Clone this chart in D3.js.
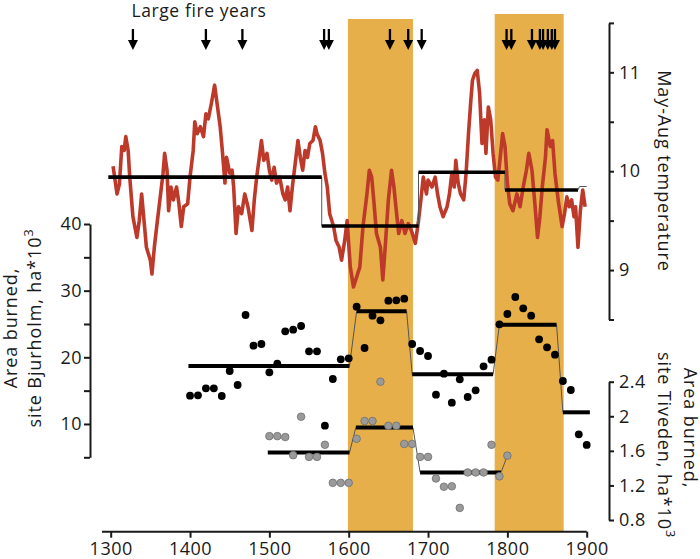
<!DOCTYPE html>
<html>
<head>
<meta charset="utf-8">
<script src="https://cdnjs.cloudflare.com/ajax/libs/d3/7.8.5/d3.min.js"></script>
<style>
    body { margin: 0; background: #fff }
    text { font-family: "Open Sans", sans-serif; fill: #1a1a1a }
</style>
</head>
<body>
<div id="chart"></div>
<script>
// reconstruction of summer temperature (deg C)
let tempYears = [1303, 1308, 1311, 1314, 1317, 1319, 1322, 1324, 1328, 1333, 1336, 1339, 1342, 1345, 1350, 1352, 1355, 1358, 1362, 1366,
    1368, 1371, 1373, 1376, 1379, 1383, 1386, 1389, 1392, 1397, 1400, 1404, 1406, 1409, 1413, 1417, 1420, 1423, 1427, 1431,
    1434, 1438, 1441, 1444, 1446, 1450, 1453, 1455, 1458, 1461, 1465, 1469, 1473, 1478, 1481, 1484, 1488, 1490, 1493, 1497,
    1500, 1503, 1506, 1509, 1513, 1517, 1520, 1523, 1526, 1529, 1532, 1536, 1539, 1542, 1545, 1548, 1551, 1555, 1558, 1560,
    1564, 1567, 1570, 1573, 1576, 1581, 1584, 1588, 1591, 1595, 1598, 1602, 1606, 1610, 1614, 1618, 1623, 1626, 1629, 1632,
    1635, 1640, 1643, 1646, 1650, 1654, 1657, 1660, 1663, 1667, 1671, 1675, 1679, 1684, 1688, 1691, 1694, 1698, 1700, 1705,
    1709, 1712, 1715, 1719, 1724, 1727, 1730, 1733, 1735, 1738, 1741, 1745, 1748, 1751, 1754, 1756, 1759, 1762, 1765, 1768,
    1771, 1773, 1776, 1779, 1782, 1785, 1788, 1791, 1794, 1797, 1800, 1803, 1807, 1812, 1816, 1820, 1824, 1827, 1831, 1835,
    1838, 1841, 1844, 1848, 1850, 1854, 1857, 1860, 1864, 1869, 1872, 1875, 1878, 1881, 1884, 1886, 1889, 1892, 1895, 1898]
let tempValues = [10.05, 9.77, 9.87, 10.25, 10.21, 10.35, 10.21, 9.94, 9.54, 9.33, 9.5, 9.77, 9.5, 9.23, 9.1, 8.96, 9.23, 9.44, 9.71, 9.98,
    10.18, 10.01, 9.6, 9.84, 9.71, 9.84, 9.67, 9.44, 9.64, 9.67, 9.94, 10.21, 10.5, 10.38, 10.45, 10.35, 10.58, 10.53, 10.69, 10.87,
    10.69, 10.45, 10.18, 9.88, 10.14, 9.98, 10.01, 9.84, 9.37, 9.64, 9.57, 9.77, 9.64, 9.4, 9.71, 9.94, 10.18, 10.31, 10.11, 10.18,
    10.01, 9.91, 10.04, 9.88, 9.94, 9.77, 9.71, 9.84, 9.6, 9.84, 10.04, 10.31, 10.14, 10.01, 10.21, 10.14, 10.28, 10.31, 10.45, 10.38,
    10.31, 10.18, 9.98, 9.84, 9.57, 9.44, 9.3, 9.23, 9.1, 9.3, 9.5, 9.03, 8.83, 8.93, 9.03, 9.44, 9.77, 10.01, 9.94, 9.67,
    9.37, 9.23, 8.9, 9.23, 9.71, 10.01, 9.84, 9.6, 9.37, 9.5, 9.37, 9.47, 9.4, 9.27, 9.5, 9.71, 9.94, 9.77, 9.91, 9.84,
    9.94, 9.77, 9.64, 9.54, 9.64, 9.77, 9.98, 9.84, 10.11, 9.88, 9.77, 9.71, 9.98, 10.38, 10.72, 10.92, 10.99, 11.02, 10.79, 10.28,
    10.52, 10.18, 10.65, 10.52, 10.18, 9.94, 9.91, 10.14, 10.38, 10.25, 9.88, 9.67, 9.6, 9.77, 9.64, 9.84, 10.01, 10.18, 10.01, 9.64,
    9.33, 9.54, 9.84, 10.14, 10.42, 10.25, 10.31, 9.98, 9.71, 9.44, 9.57, 9.74, 9.64, 9.71, 9.54, 9.64, 9.23, 9.6, 9.81, 9.64]
// period means of temperature: [from, to, value]
let tempMeans = [[1297, 1566, 9.94], [1566, 1688, 9.445], [1688, 1797, 9.99], [1797, 1889, 9.81]]
let tempTail = [[1889, 9.81], [1891, 9.845], [1900, 9.845]]

// area burned, Bjurholm (decadal)
let bjYears = [1400, 1410, 1420, 1430, 1440, 1450, 1460, 1470, 1480, 1490, 1500, 1510, 1520, 1530, 1540, 1550, 1560, 1570,
    1580, 1590, 1600, 1610, 1620, 1630, 1640, 1650, 1660, 1670, 1680, 1690, 1700, 1710, 1720, 1730, 1740, 1750, 1760,
    1770, 1780, 1790, 1800, 1810, 1820, 1830, 1840, 1850, 1860, 1870, 1880, 1890, 1900]
let bjValues = [14.25, 14.3, 15.35, 15.35, 14.2, 17.95, 15.85, 26.35, 21.75, 22.0, 17.75, 19.05, 23.9, 24.15, 24.7, 20.9, 20.9, 9.75,
    16.75, 19.7, 19.85, 27.6, 21.4, 26.25, 25.55, 28.5, 28.55, 28.8, 22.0, 20.95, 20.2, 14.4, 17.55, 13.2, 16.7, 14.05, 15.05,
    18.65, 19.65, 24.95, 26.5, 29.05, 27.35, 26.25, 22.7, 21.5, 20.4, 16.45, 15.1, 8.45, 6.85]
let bjMeans = [[1398, 1601, 18.7], [1610, 1673, 26.9], [1680, 1782, 17.45], [1790, 1862, 24.9], [1870, 1904, 11.75]]

// area burned, Tiveden (decadal)
let tvYears = [1500, 1510, 1520, 1530, 1540, 1550, 1560, 1570, 1580, 1590, 1600, 1610, 1620, 1630, 1640, 1650,
    1660, 1670, 1680, 1690, 1700, 1710, 1720, 1730, 1740, 1750, 1760, 1770, 1780, 1790, 1800]
let tvValues = [1.77, 1.77, 1.76, 1.55, 1.995, 1.53, 1.53, 1.67, 1.23, 1.23, 1.23, 1.74, 1.945, 1.945, 2.4, 1.89,
    1.89, 1.68, 1.68, 1.53, 1.53, 1.28, 1.185, 1.19, 0.94, 1.35, 1.35, 1.35, 1.67, 1.305, 1.545]
let tvMeans = [[1498, 1601, 1.58], [1609, 1681, 1.87], [1690, 1792, 1.35]]

let fireYears = [1328, 1420, 1466, 1569, 1575, 1652, 1675, 1692, 1799, 1805, 1831, 1841, 1845, 1851, 1856, 1860]
let coldPeriods = [[1599, 1681], [1784, 1871]]

let xTicks = [1300, 1400, 1500, 1600, 1700, 1800, 1900]
let tempTicks = [8.5, 9, 9.5, 10, 10.5, 11, 11.5]
let bjTicks = [5, 10, 15, 20, 25, 30, 35, 40]
let tvTicks = [0.8, 1.2, 1.6, 2, 2.4]

let W = 700, H = 559
let svg = d3.select("#chart").append("svg").attr("width", W).attr("height", H)

let x = d3.scaleLinear().domain([1300, 1900]).range([110.7, 586.7])
let yT = d3.scaleLinear().domain([8.5, 11.5]).range([319.5, 22.9])
let yB = d3.scaleLinear().domain([5, 40]).range([457.3, 224])
let yV = d3.scaleLinear().domain([0.8, 2.4]).range([520, 381.7])

// orange bands behind everything
let bandTops = [19, 14]
svg.selectAll(".band").data(coldPeriods).enter().append("rect")
    .attr("class", "band")
    .attr("x", d => x(d[0]))
    .attr("width", d => x(d[1]) - x(d[0]))
    .attr("y", (d, i) => bandTops[i])
    .attr("height", (d, i) => 531 - bandTops[i])
    .attr("fill", "#E7AF4A")

// temperature curve
let tempData = tempYears.map((yr, i) => [yr, tempValues[i]])
svg.append("path").datum(tempData)
    .attr("fill", "none")
    .attr("stroke", "#BD3A2A")
    .attr("stroke-width", 3.6)
    .attr("stroke-linejoin", "round")
    .attr("d", d3.line().x(d => x(d[0])).y(d => yT(d[1])))

// step means with thin connectors
let drawMeans = (means, yScale, thick) => {
    // thin joins from the end of one period to the start of the next
    for (let i = 1; i < means.length; i++) {
        svg.append("line")
            .attr("x1", x(means[i - 1][1])).attr("y1", yScale(means[i - 1][2]))
            .attr("x2", x(means[i][0])).attr("y2", yScale(means[i][2]))
            .attr("stroke", "#555").attr("stroke-width", 1)
    }
    svg.selectAll(null).data(means).enter().append("line")
        .attr("x1", d => x(d[0])).attr("x2", d => x(d[1]))
        .attr("y1", d => yScale(d[2])).attr("y2", d => yScale(d[2]))
        .attr("stroke", "#000").attr("stroke-width", thick)
}
drawMeans(tempMeans, yT, 3.6)
svg.append("path").datum(tempTail)
    .attr("fill", "none").attr("stroke", "#555").attr("stroke-width", 1)
    .attr("d", d3.line().x(d => x(d[0])).y(d => yT(d[1])))

// tiveden connector to last dot
let tvLast = tvMeans[tvMeans.length - 1]
svg.append("line")
    .attr("x1", x(tvLast[1])).attr("y1", yV(tvLast[2]))
    .attr("x2", x(tvYears[tvYears.length - 1])).attr("y2", yV(tvValues[tvValues.length - 1]))
    .attr("stroke", "#555").attr("stroke-width", 1)
drawMeans(tvMeans, yV, 4)
drawMeans(bjMeans, yB, 4)

// dots
svg.selectAll(".tv").data(tvYears).enter().append("circle")
    .attr("class", "tv")
    .attr("cx", d => x(d))
    .attr("cy", (d, i) => yV(tvValues[i]))
    .attr("r", 3.8)
    .attr("fill", "#9a9a9a").attr("stroke", "#6e6e6e").attr("stroke-width", 0.8)
svg.selectAll(".bj").data(bjYears).enter().append("circle")
    .attr("class", "bj")
    .attr("cx", d => x(d))
    .attr("cy", (d, i) => yB(bjValues[i]))
    .attr("r", 3.9)
    .attr("fill", "#000")

// large fire year arrows
let arrows = svg.selectAll(".arrow").data(fireYears).enter().append("g")
    .attr("class", "arrow")
    .attr("transform", d => `translate(${x(d)},0)`)
arrows.append("line").attr("x1", 0).attr("x2", 0).attr("y1", 29).attr("y2", 42)
    .attr("stroke", "#000").attr("stroke-width", 2.3)
arrows.append("path").attr("d", "M-5,40L5,40L0,50Z").attr("fill", "#000")

svg.append("text").attr("x", 199).attr("y", 17).attr("text-anchor", "middle")
    .style("font-size", "17.5px").style("letter-spacing", "0.6px").text("Large fire years")

// axes
let styleAxis = (g) => {
    g.selectAll("path, line").attr("stroke", "#1a1a1a").attr("stroke-width", 2)
    g.selectAll("text").style("font-size", "18px").style("letter-spacing", "0.5px").attr("fill", "#1a1a1a")
}

let xAxis = svg.append("g").attr("transform", "translate(0,531.7)")
    .call(d3.axisBottom(x).tickValues(xTicks).tickFormat(d3.format("d")).tickSize(6).tickSizeOuter(0))
xAxis.select(".domain").remove()
xAxis.append("line").attr("x1", 102).attr("x2", x(1900))
xAxis.selectAll("text").attr("y", 11).attr("dy", "0.71em")
styleAxis(xAxis)

let tAxis = svg.append("g").attr("transform", "translate(609,0)")
    .call(d3.axisRight(yT).tickValues(tempTicks).tickFormat(d => d % 1 === 0 ? d : "").tickSize(5).tickSizeOuter(0))
tAxis.selectAll("text").attr("x", 10)
styleAxis(tAxis)

let bAxis = svg.append("g").attr("transform", "translate(90,0)")
    .call(d3.axisLeft(yB).tickValues(bjTicks).tickFormat(d => d % 10 === 0 ? d : "").tickSize(6).tickSizeOuter(0))
bAxis.selectAll("text").attr("x", -8)
styleAxis(bAxis)

let vAxis = svg.append("g").attr("transform", "translate(609,0)")
    .call(d3.axisRight(yV).tickValues(tvTicks).tickFormat(d3.format("")).tickSize(5).tickSizeOuter(0))
vAxis.selectAll("text").attr("x", 10)
styleAxis(vAxis)

// axis titles
let rotTitle = (cx, cy, angle, parts) => {
    let t = svg.append("text")
        .attr("transform", `translate(${cx},${cy}) rotate(${angle})`)
        .attr("text-anchor", "middle")
        .style("font-size", "18px")
        .style("letter-spacing", "0.9px")
    parts.forEach(p => {
        t.append("tspan").attr("baseline-shift", p[1] ? "super" : null)
            .style("font-size", p[1] ? "12.5px" : null).text(p[0])
    })
}
rotTitle(16.5, 328, -90, [["Area burned,"]])
rotTitle(41, 328, -90, [["site Bjurholm, ha*10"], ["3", true]])
rotTitle(658, 171, 90, [["May-Aug temperature"]])
rotTitle(683.5, 428, 90, [["Area burned,"]])
rotTitle(658, 445, 90, [["site Tiveden, ha*10"], ["3", true]])
</script>
</body>
</html>
